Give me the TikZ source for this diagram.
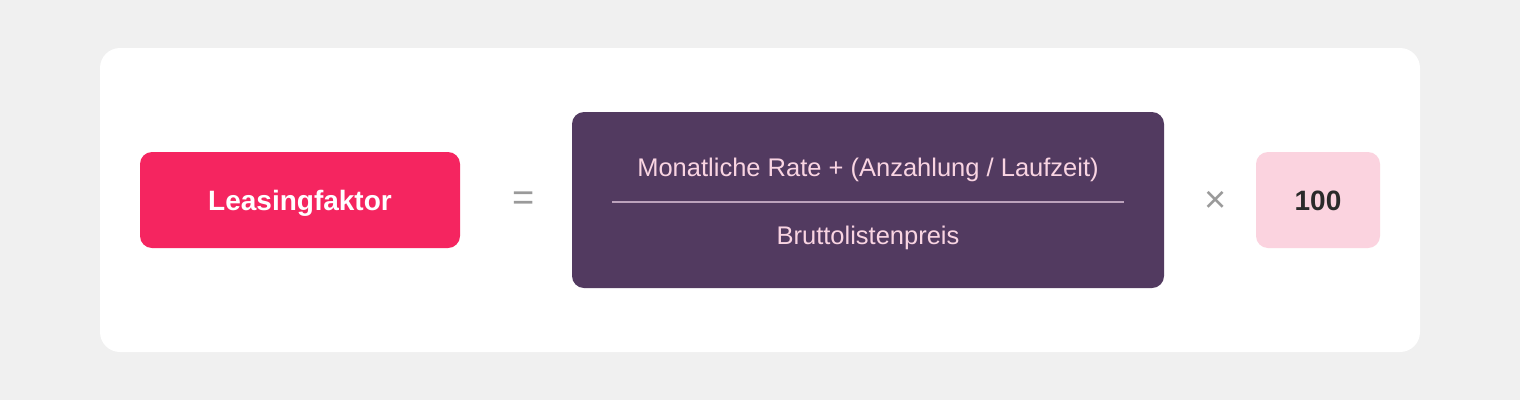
\documentclass[tikz,border=0pt]{standalone}
\usepackage{fontspec}
\setmainfont{Liberation Sans}
\definecolor{bg}{HTML}{F0F0F0}
\definecolor{lfred}{HTML}{F52560}
\definecolor{lfpurple}{HTML}{523A60}
\definecolor{lfpink}{HTML}{FBD3DF}
\definecolor{lftext}{HTML}{F9D4E2}
\definecolor{lfline}{HTML}{BCA2BC}
\definecolor{lfgray}{HTML}{9A9A9A}
\definecolor{lfdark}{HTML}{2A2A2A}
\begin{document}
\begin{tikzpicture}[x=1pt,y=-1pt,
  box/.style={rounded corners=12pt, inner sep=0pt, outer sep=0pt},
  optext/.style={text=lfgray, font=\fontsize{38}{38}\selectfont}]
\useasboundingbox[fill=bg] (0,0) rectangle (1520,400);
\fill[white, rounded corners=20pt] (100,48) rectangle (1420,352);
\node[box, fill=lfred, minimum width=320pt, minimum height=96pt] (lf) at (300,200) {};
\node[text=white, font=\fontsize{28}{28}\selectfont\bfseries, anchor=base] (lft) at (lf.center |- 0,210) {Leasingfaktor};
\node[optext] (eq) at (524,201) {=};
\node[box, fill=lfpurple, minimum width=592pt, minimum height=176pt] (frac) at (868,200) {};
\node[text=lftext, font=\fontsize{25.5}{25.5}\selectfont, anchor=base] (num) at (868,176) {Monatliche Rate + (Anzahlung / Laufzeit)};
\draw[lfline, line width=2pt] (612,202) -- (1124,202);
\node[text=lftext, font=\fontsize{25.5}{25.5}\selectfont, anchor=base] (den) at (868,244) {Bruttolistenpreis};
\node[optext] (times) at (1216,202) {×};
\node[box, fill=lfpink, minimum width=124pt, minimum height=96pt] (h) at (1318,200) {};
\node[text=lfdark, font=\fontsize{28}{28}\selectfont\bfseries, anchor=base] (ht) at (h.center |- 0,210) {100};
\end{tikzpicture}
\end{document}
